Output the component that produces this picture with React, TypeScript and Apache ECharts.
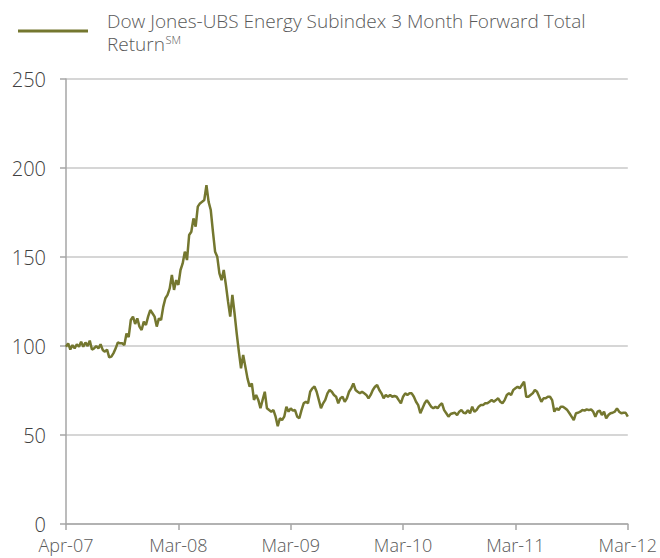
import React, { useEffect, useRef } from "react";
import * as echarts from "echarts";

// Weekly observations starting 2 Apr 2007
const startDate = "2007-04-02";
const stepDays = 7;

const tickLabels = ["Apr-07", "Mar-08", "Mar-09", "Mar-10", "Mar-11", "Mar-12"];
const tickEvery = 52;

const legendLine1 = "Dow Jones-UBS Energy Subindex 3 Month Forward Total";
const legendLine2 = "Return";
const legendSup = "SM";

const values2007 = [
  99.6, 101.5, 98, 100.5, 98.7, 101, 99.6, 102.4, 99.6, 102,
  100, 103, 98, 98.7, 100, 98.7, 101, 97.8, 96.8, 98,
  93.6, 94, 96, 98.7, 102, 101.5, 101.5, 100.5, 107, 105,
  114.6, 116.5, 112.4, 115.5, 110.9, 109, 113.7, 111.8, 116.5, 120.2,
  118.4, 116.5, 110.9, 115.5, 114.6, 122, 126.8, 128.7, 132.4, 139.9,
  131.5, 137,
];
const values2008 = [
  134.3, 142.7, 146.4, 153, 148.3, 162.4, 164.2, 171.7, 167, 178.3,
  180.1, 181, 182, 190.4, 181, 176.4, 164.2, 153, 150.2, 140.8,
  137, 142.7, 134.3, 124.9, 116.5, 128.7, 118.4, 107.1, 96.8, 87.5,
  95, 88.4, 81.8, 77.2, 79, 69.7, 72.5, 69.7, 65, 69.7,
  74.3, 65, 64, 63.1, 64, 60.3, 55, 59.4, 58.4, 60.3,
  65.9, 63.1,
];
const values2009 = [
  65, 63.7, 64, 60.3, 59.4, 64, 67.8, 68.7, 67.8, 74.3,
  76.2, 77.2, 74.3, 69.7, 65, 67.8, 69.7, 73.4, 75.3, 74.3,
  72.5, 71.5, 67.8, 70.6, 71.5, 68.7, 70.6, 74.3, 76.2, 79,
  75.3, 74.3, 73.4, 74.3, 73.4, 72.5, 70.6, 72.5, 75.3, 77.1,
  78.1, 75.3, 73.4, 70.6, 72.5, 71.5, 72.5, 71.5, 71.9, 71.5,
  69.6, 67.8,
];
const values2010 = [
  71.5, 73.4, 72.5, 73.4, 73.4, 71.5, 68.7, 66.8, 62.2, 65,
  67.8, 69.6, 67.8, 65.9, 65, 65.9, 65, 66.8, 67.8, 64,
  62.2, 60.3, 61.8, 62.2, 62.5, 61.2, 63.1, 64, 62.5, 62.2,
  64, 62.2, 65.9, 63.1, 64, 65.9, 66.8, 66.8, 67.8, 67.8,
  68.7, 69.6, 68.7, 69.6, 70.6, 68.7, 67.8, 69.6, 72.5, 73.4,
  72.5, 75.3,
];
const values2011 = [
  76.2, 77.1, 76.2, 78.1, 80, 71.5, 71.5, 72.5, 73.4, 75.3,
  74.3, 71.5, 68.7, 70.6, 70.6, 71.5, 71.5, 69.6, 63.1, 65,
  64, 65.9, 65.9, 65, 64, 62.2, 60.3, 58.4, 62.2, 62.5,
  63.1, 64, 63.7, 64.4, 64, 64.4, 63.1, 60.3, 63.1, 63.7,
  61.2, 63.1, 59.3, 61.2, 62.2, 62.5, 63.1, 65, 63.1, 62.2,
  62.5, 62.5, 60.3,
];
const values = [...values2007, ...values2008, ...values2009, ...values2010, ...values2011];

const yMin = 0;
const yMax = 250;
const yInterval = 50;

function buildDates(n: number): string[] {
  const out: string[] = [];
  const d0 = new Date(startDate + "T00:00:00Z").getTime();
  for (let i = 0; i < n; i++) {
    const d = new Date(d0 + i * stepDays * 86400000);
    out.push(d.toISOString().slice(0, 10));
  }
  return out;
}

function measure(text: string, font: string): number {
  const c = document.createElement("canvas").getContext("2d");
  if (!c) return text.length * 9;
  c.font = font;
  return c.measureText(text).width;
}

export default function App() {
  const ref = useRef<HTMLDivElement>(null);
  useEffect(() => {
    if (!ref.current) return;
    const chart = echarts.init(ref.current, undefined, { renderer: "svg" });
    const dates = buildDates(values.length);
    const lineColor = "#74772f";
    const font = "'Open Sans', Lato, sans-serif";
    const legendSize = 19;
    const retW = measure(legendLine2, `300 ${legendSize}px 'Open Sans'`);
    chart.setOption({
      animation: false,
      backgroundColor: "#ffffff",
      grid: { left: 66, right: 32, top: 79, bottom: 34, containLabel: false },
      xAxis: {
        type: "category",
        data: dates,
        boundaryGap: false,
        axisLine: { show: true, lineStyle: { color: "#a6a6a6", width: 1.5 } },
        axisTick: {
          show: true,
          length: 6,
          lineStyle: { color: "#a6a6a6", width: 1.5 },
          interval: (i: number) => i % tickEvery === 0,
        },
        axisLabel: {
          interval: (i: number) => i % tickEvery === 0,
          formatter: (_v: string, i: number) => tickLabels[Math.round(i / tickEvery)] ?? "",
          color: "#595959",
          fontSize: 18,
          lineHeight: 18,
          fontFamily: font,
          fontWeight: 300,
          margin: 12,
          showMinLabel: true,
          showMaxLabel: true,
        },
        splitLine: { show: false },
      },
      yAxis: {
        type: "value",
        min: yMin,
        max: yMax,
        interval: yInterval,
        axisLine: { show: true, lineStyle: { color: "#a6a6a6", width: 1.5 } },
        axisTick: { show: true, length: 6, lineStyle: { color: "#a6a6a6", width: 1.5 } },
        axisLabel: {
          color: "#404040",
          fontSize: 20,
          lineHeight: 20,
          fontFamily: font,
          fontWeight: 300,
          margin: 20,
        },
        splitLine: { show: true, lineStyle: { color: "#c8c8c8", width: 1.5 } },
      },
      series: [
        {
          name: legendLine1 + " " + legendLine2,
          type: "line",
          data: values,
          showSymbol: false,
          symbol: "none",
          lineStyle: { color: lineColor, width: 2.5 },
          itemStyle: { color: lineColor },
        },
      ],
      graphic: [
        {
          type: "line",
          shape: { x1: 18, y1: 31, x2: 88, y2: 31 },
          style: { stroke: lineColor, lineWidth: 3 },
        },
        {
          type: "text",
          x: 107,
          y: 21,
          style: {
            text: legendLine1,
            fill: "#595959",
            fontSize: legendSize,
            lineHeight: 20,
            fontFamily: font,
            fontWeight: 300,
            verticalAlign: "middle",
          },
        },
        {
          type: "text",
          x: 107,
          y: 44,
          style: {
            text: legendLine2,
            fill: "#595959",
            fontSize: legendSize,
            lineHeight: 20,
            fontFamily: font,
            fontWeight: 300,
            verticalAlign: "middle",
          },
        },
        {
          type: "text",
          x: 107 + retW + 0.5,
          y: 39,
          style: {
            text: legendSup,
            fill: "#595959",
            fontSize: 11,
            lineHeight: 11,
            fontFamily: font,
            fontWeight: 300,
            verticalAlign: "middle",
          },
        },
      ],
    });
    return () => chart.dispose();
  }, []);
  return <div ref={ref} style={{ position: "fixed", left: 0, top: 0, width: 660, height: 558 }} />;
}
